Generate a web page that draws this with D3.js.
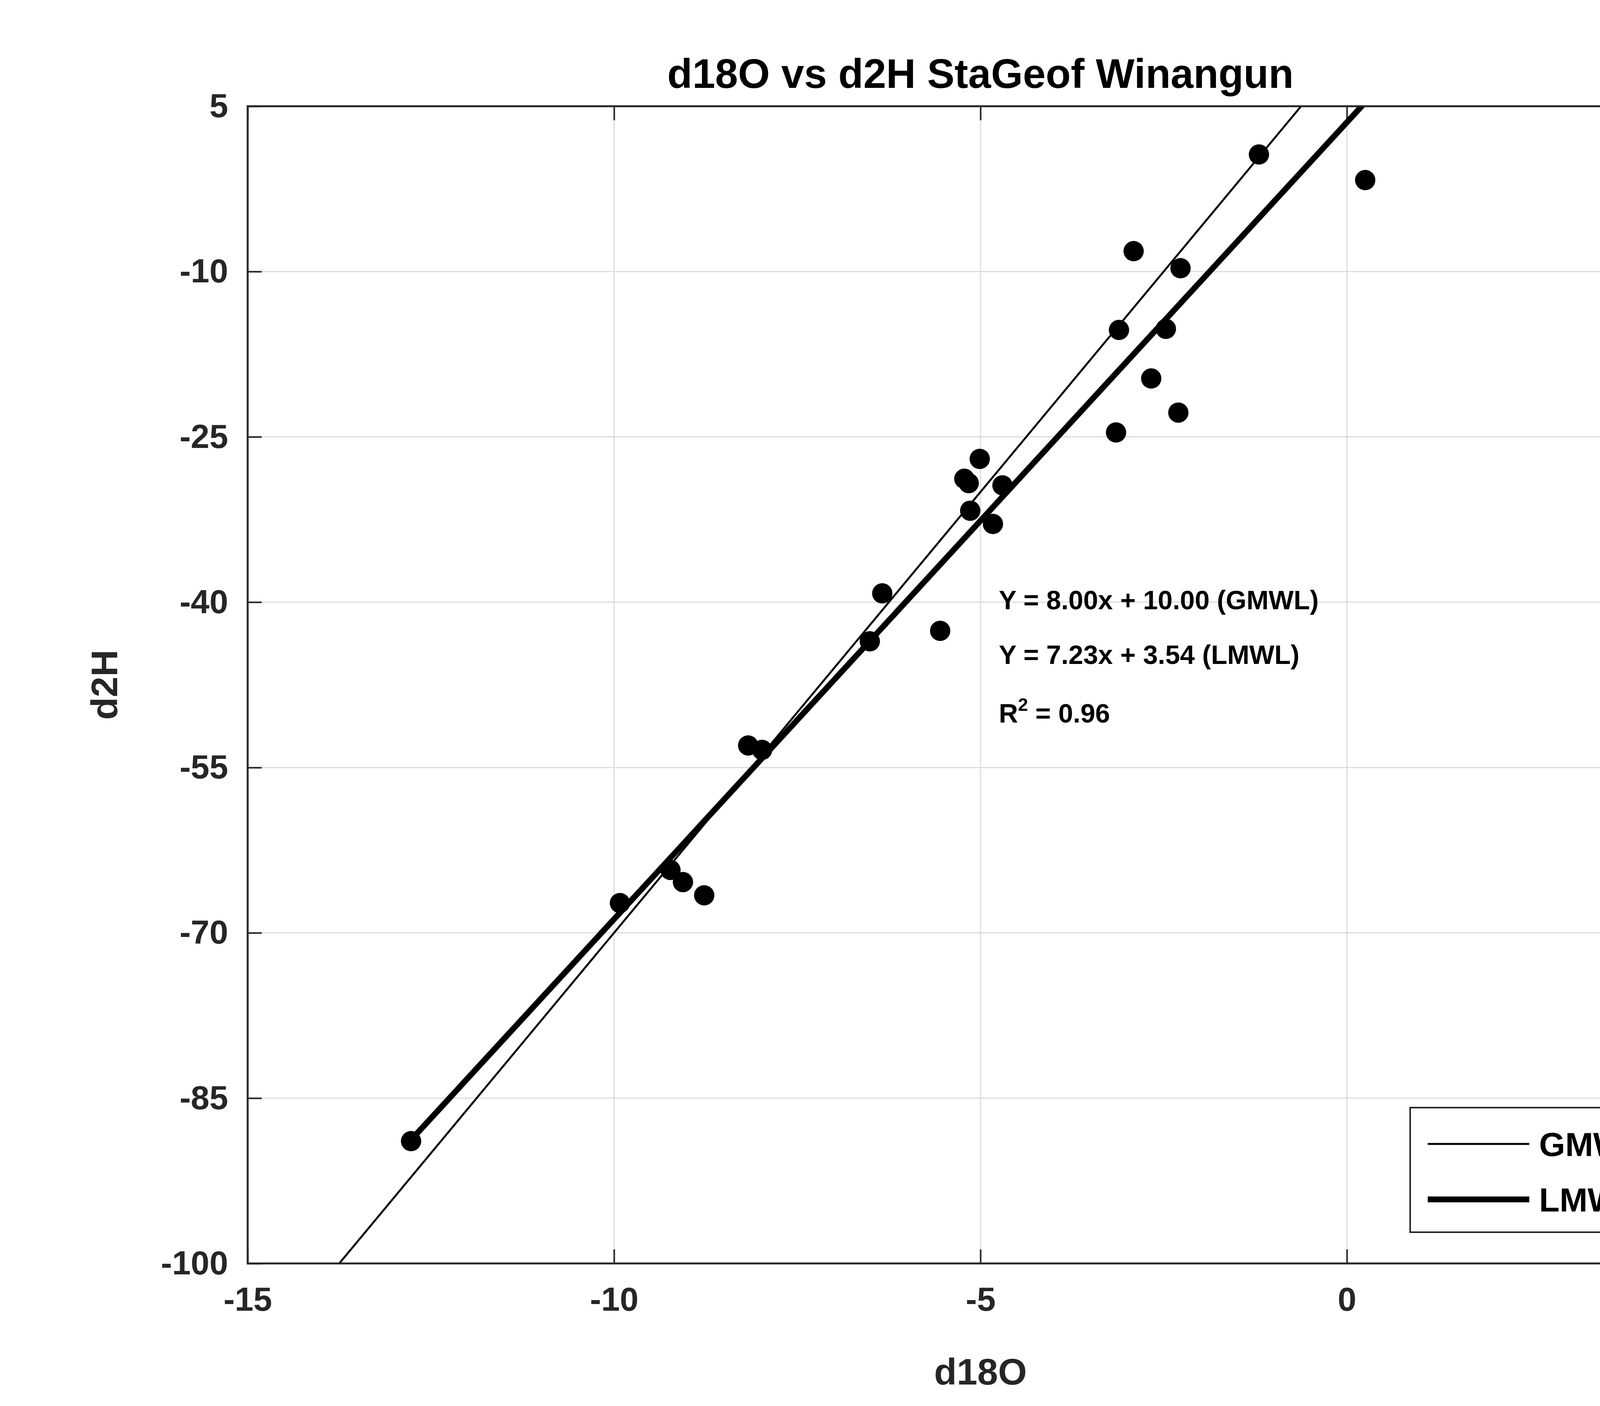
<!DOCTYPE html>
<html><head><meta charset="utf-8">
<script src="https://cdn.jsdelivr.net/npm/d3@7"></script>
<style>body{margin:0;background:#fff}text{font-family:"Liberation Sans",Arial,sans-serif;font-weight:bold;fill:#262626}</style>
</head><body>
<script>
// sample values
var d18O = [-12.77,-9.92,-9.23,-9.06,-8.77,-8.17,-7.98,-6.51,-6.34,-5.55,-5.22,-5.16,-5.01,-5.14,-4.83,-4.70,-3.15,-3.11,-2.91,-2.67,-2.47,-2.30,-2.27,-1.20,0.25];
var d2H  = [-88.9,-67.3,-64.3,-65.4,-66.6,-53.0,-53.4,-43.55,-39.2,-42.6,-28.8,-29.2,-27.0,-31.7,-32.9,-29.4,-24.6,-15.3,-8.15,-19.7,-15.2,-22.8,-9.7,0.62,-1.7];
var xTicks = [-15,-10,-5,0,5];
var yTicks = [-100,-85,-70,-55,-40,-25,-10,5];
var gmwl = {slope: 8.00, icpt: 10.00};
var lmwl = {slope: 7.23, icpt: 3.54};

var W = 4800, H = 3600,
    pLeft = 634, pRight = 4386, pTop = 272, pBottom = 3235;

var svg = d3.select('body').append('svg').attr('width', W).attr('height', H);
var x = d3.scaleLinear().domain([-15, 5]).range([pLeft, pRight]);
var y = d3.scaleLinear().domain([-100, 5]).range([pBottom, pTop]);

// grid
svg.append('g').selectAll('line').data(xTicks.slice(1, -1)).enter().append('line')
  .attr('x1', x).attr('x2', x).attr('y1', pTop).attr('y2', pBottom)
  .attr('stroke', '#dcdcdc').attr('stroke-width', 3);
svg.append('g').selectAll('line').data(yTicks.slice(1, -1)).enter().append('line')
  .attr('y1', y).attr('y2', y).attr('x1', pLeft).attr('x2', pRight)
  .attr('stroke', '#dcdcdc').attr('stroke-width', 3);

function styleAxis(g) {
  g.select('.domain').remove();
  g.selectAll('line').attr('stroke', '#262626').attr('stroke-width', 4);
  g.selectAll('text').style('font-size', '86px').style('font-weight', 'bold');
}
var fmt = function(d) { return String(d); };
svg.append('g').attr('transform', 'translate(0,' + pBottom + ')')
  .call(d3.axisBottom(x).tickValues(xTicks).tickFormat(fmt).tickSize(-36).tickPadding(60)).call(styleAxis);
svg.append('g').attr('transform', 'translate(0,' + pTop + ')')
  .call(d3.axisTop(x).tickValues(xTicks).tickFormat('').tickSize(-36)).call(styleAxis);
svg.append('g').attr('transform', 'translate(' + pLeft + ',0)')
  .call(d3.axisLeft(y).tickValues(yTicks).tickFormat(fmt).tickSize(-36).tickPadding(50)).call(styleAxis);
svg.append('g').attr('transform', 'translate(' + pRight + ',0)')
  .call(d3.axisRight(y).tickValues(yTicks).tickFormat('').tickSize(-36)).call(styleAxis);

// clip for lines
svg.append('clipPath').attr('id', 'clip').append('rect')
  .attr('x', pLeft).attr('y', pTop).attr('width', pRight - pLeft).attr('height', pBottom - pTop);

var line = d3.line().x(function(d){ return x(d[0]); }).y(function(d){ return y(d[1]); });
svg.append('path').attr('clip-path', 'url(#clip)')
  .attr('d', line([[-15, gmwl.slope * -15 + gmwl.icpt], [5, gmwl.slope * 5 + gmwl.icpt]]))
  .attr('stroke', '#000').attr('stroke-width', 5).attr('fill', 'none');
var xmin = d3.min(d18O), xmax = d3.max(d18O);
svg.append('path').attr('clip-path', 'url(#clip)')
  .attr('d', line([[xmin, lmwl.slope * xmin + lmwl.icpt], [xmax, lmwl.slope * xmax + lmwl.icpt]]))
  .attr('stroke', '#000').attr('stroke-width', 15).attr('fill', 'none');

// points
svg.append('g').selectAll('circle').data(d18O).enter().append('circle')
  .attr('cx', function(d){ return x(d); })
  .attr('cy', function(d, i){ return y(d2H[i]); })
  .attr('r', 26).attr('fill', '#000');

// box
svg.append('rect').attr('x', pLeft).attr('y', pTop).attr('width', pRight - pLeft).attr('height', pBottom - pTop)
  .attr('fill', 'none').attr('stroke', '#262626').attr('stroke-width', 5);

// titles
svg.append('text').attr('x', (pLeft + pRight) / 2).attr('y', 225).attr('text-anchor', 'middle')
  .style('font-size', '105px').style('fill', '#000').text('d18O vs d2H StaGeof Winangun');
svg.append('text').attr('x', (pLeft + pRight) / 2).attr('y', 3545).attr('text-anchor', 'middle')
  .style('font-size', '95px').text('d18O');
svg.append('text').attr('transform', 'translate(300,' + (pTop + pBottom) / 2 + ') rotate(-90)')
  .attr('text-anchor', 'middle').style('font-size', '95px').text('d2H');

// annotations
var ann = svg.append('g').style('font-size', '68px');
ann.append('text').attr('x', 2557).attr('y', 1560).style('fill', '#000').text('Y = 8.00x + 10.00 (GMWL)');
ann.append('text').attr('x', 2557).attr('y', 1700).style('fill', '#000').text('Y = 7.23x + 3.54 (LMWL)');
var r2 = ann.append('text').attr('x', 2557).attr('y', 1850).style('fill', '#000');
r2.append('tspan').text('R');
r2.append('tspan').attr('dy', -30).style('font-size', '46px').text('2');
r2.append('tspan').attr('dy', 30).text(' = 0.96');

// legend
var lg = svg.append('g');
lg.append('rect').attr('x', 3610).attr('y', 2836).attr('width', 693).attr('height', 319)
  .attr('fill', '#fff').attr('stroke', '#262626').attr('stroke-width', 4);
lg.append('line').attr('x1', 3655).attr('x2', 3915).attr('y1', 2929).attr('y2', 2929).attr('stroke', '#000').attr('stroke-width', 5);
lg.append('line').attr('x1', 3655).attr('x2', 3915).attr('y1', 3071).attr('y2', 3071).attr('stroke', '#000').attr('stroke-width', 15);
lg.append('text').attr('x', 3940).attr('y', 2960).style('font-size', '86px').style('fill', '#000').text('GMWL');
lg.append('text').attr('x', 3940).attr('y', 3102).style('font-size', '86px').style('fill', '#000').text('LMWL');
</script>
</body></html>
